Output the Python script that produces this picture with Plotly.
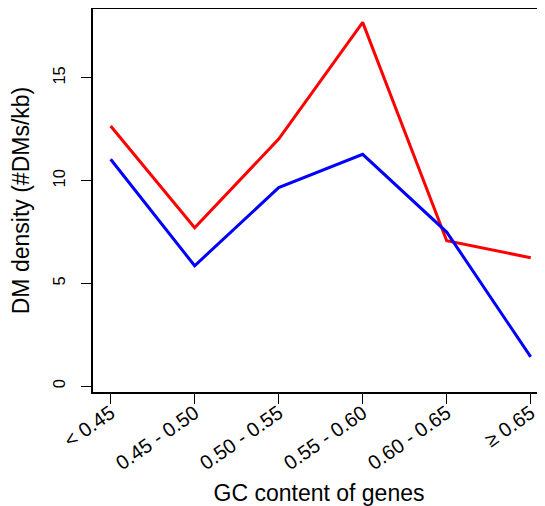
import plotly.graph_objects as go

categories = ["< 0.45", "0.45 - 0.50", "0.50 - 0.55", "0.55 - 0.60", "0.60 - 0.65", "≥ 0.65"]
red_values = [12.66, 7.71, 12.02, 17.70, 7.08, 6.25]
blue_values = [11.04, 5.86, 9.66, 11.28, 7.5, 1.43]
y_ticks = [0, 5, 10, 15]

x_idx = list(range(len(categories)))

fig = go.Figure()
fig.add_trace(go.Scatter(x=x_idx, y=red_values, mode="lines",
                         line=dict(color="#FF0000", width=3), showlegend=False))
fig.add_trace(go.Scatter(x=x_idx, y=blue_values, mode="lines",
                         line=dict(color="#0000FF", width=3), showlegend=False))

font = "Liberation Sans, Arial, Helvetica, sans-serif"
# page body has an 8px default margin, so the figure is sized 8px smaller
fig.update_layout(
    width=537, height=498,
    margin=dict(l=85, r=0, t=1, b=114),
    paper_bgcolor="white", plot_bgcolor="white",
    font=dict(family=font, color="black"),
    xaxis=dict(
        range=[-0.21, 5.17], tickmode="array", tickvals=x_idx, ticktext=categories,
        tickangle=-35, ticks="outside", ticklen=10, tickwidth=1.2, tickcolor="black",
        showline=True, linecolor="black", linewidth=1.6, mirror=True,
        showgrid=False, zeroline=False, tickfont=dict(size=20), automargin=False,
        ticklabelstandoff=-10,
        title=dict(text="GC content of genes", font=dict(size=23), standoff=22),
    ),
    yaxis=dict(
        range=[-0.28, 18.35], tickmode="array", tickvals=y_ticks,
        tickangle=-90, ticks="outside", ticklen=10, tickwidth=1.2, tickcolor="black",
        showline=True, linecolor="black", linewidth=1.6,
        showgrid=False, zeroline=False, tickfont=dict(size=16.5), automargin=False,
        ticklabelstandoff=10,
        title=dict(text="DM density (#DMs/kb)", font=dict(size=23), standoff=16),
    ),
)
fig.write_html("out.html")
